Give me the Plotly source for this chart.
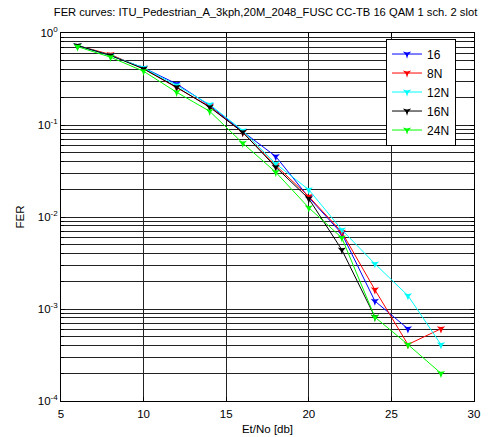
import plotly.graph_objects as go

x_all = [6, 8, 10, 12, 14, 16, 18, 20, 22, 24, 26, 28]

names = ["16", "8N", "12N", "16N", "24N"]
colors = ["#0000ff", "#ff0000", "#00ffff", "#000000", "#00ff00"]

fer_16 = [0.73, 0.57, 0.418, 0.28, 0.163, 0.085, 0.0455, 0.0163, 0.0066, 0.00122, 0.00061]
fer_8N = [0.73, 0.584, 0.408, 0.256, 0.159, 0.083, 0.0363, 0.0167, 0.00684, 0.00162, 0.000411, 0.00061]
fer_12N = [0.73, 0.57, 0.418, 0.269, 0.167, 0.087, 0.0379, 0.0198, 0.00726, 0.0031, 0.0014, 0.000411]
fer_16N = [0.73, 0.57, 0.408, 0.258, 0.156, 0.0835, 0.0348, 0.0158, 0.0044, 0.00082]
fer_24N = [0.71, 0.546, 0.384, 0.227, 0.141, 0.0634, 0.0307, 0.0126, 0.00594, 0.000815, 0.000411, 0.0002]

series = [fer_16, fer_8N, fer_12N, fer_16N, fer_24N]

x_ticks = [5, 10, 15, 20, 25, 30]
y_major = [1e-4, 1e-3, 1e-2, 1e-1, 1]
y_major_text = ["10<sup>-4</sup>", "10<sup>-3</sup>", "10<sup>-2</sup>", "10<sup>-1</sup>", "10<sup>0</sup>"]
y_minor = [k * d for d in [1e-4, 1e-3, 1e-2, 1e-1] for k in range(2, 10)]

fig = go.Figure()
for name, col, ys in zip(names, colors, series):
    fig.add_trace(go.Scatter(
        x=x_all[:len(ys)], y=ys, name=name, mode="lines+markers",
        line=dict(color=col, width=1),
        marker=dict(symbol="star-triangle-down", size=6, color=col),
    ))

font = "Liberation Sans, Arial, sans-serif"
fig.update_layout(
    width=501, height=437,
    margin=dict(l=61, r=27, t=33, b=36),
    paper_bgcolor="white", plot_bgcolor="white",
    font=dict(family=font, size=11.5, color="black"),
    title=dict(text="FER curves: ITU_Pedestrian_A_3kph,20M_2048_FUSC CC-TB 16 QAM 1 sch. 2 slot",
               x=0.53, xanchor="center", y=0.972, yanchor="middle",
               font=dict(size=11.2, family=font, color="black")),
    showlegend=True,
    legend=dict(x=0.787, y=0.985, xanchor="left", yanchor="top",
                bgcolor="white", bordercolor="black", borderwidth=1,
                font=dict(size=12, family=font), tracegroupgap=0),
    xaxis=dict(range=[5, 30], tickvals=x_ticks, showgrid=True, gridcolor="#222222", gridwidth=1,
               zeroline=False, showline=True, linecolor="black", linewidth=1, mirror="ticks",
               ticks="inside", ticklen=4, tickcolor="black", ticklabelstandoff=2,
               automargin=False,
               title=dict(text="Et/No [db]", standoff=6, font=dict(size=11.5))),
    yaxis=dict(type="log", range=[-4, 0], tickvals=y_major, ticktext=y_major_text,
               showgrid=True, gridcolor="#222222", gridwidth=1,
               zeroline=False, showline=True, linecolor="black", linewidth=1, mirror="ticks",
               ticks="inside", ticklen=4, tickcolor="black", automargin=False,
               minor=dict(tickvals=y_minor, showgrid=True, gridcolor="#222222", gridwidth=1,
                          ticks="inside", ticklen=3, tickcolor="black"),
               title=dict(text="FER", standoff=10, font=dict(size=11.5))),
)

fig.write_html("out.html", config={"displayModeBar": False},
               post_script="document.body.style.margin='0';")
